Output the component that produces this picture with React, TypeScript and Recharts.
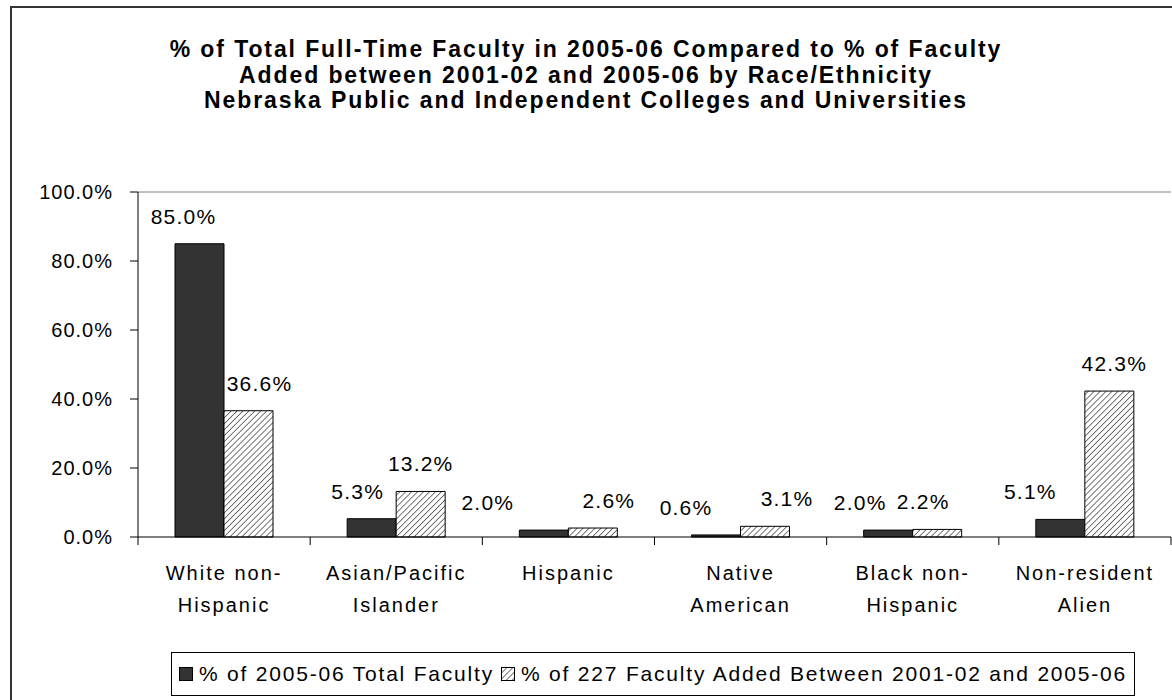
import { BarChart, Bar, XAxis, YAxis, CartesianGrid, LabelList, ReferenceLine } from "recharts";

const categories = [
  "White non-\nHispanic",
  "Asian/Pacific\nIslander",
  "Hispanic",
  "Native\nAmerican",
  "Black non-\nHispanic",
  "Non-resident\nAlien",
];
const totalFaculty = [85.0, 5.3, 2.0, 0.6, 2.0, 5.1];
const facultyAdded = [36.6, 13.2, 2.6, 3.1, 2.2, 42.3];
const yTicks = [0, 20, 40, 60, 80, 100];

// sideways nudges (px) of each value label, as placed in the original
const totalLabelNudge = [-16, -14, -56, -30, -28, -30];
const addedLabelNudge = [11, 0, 16, 22, -14, 5];

const TITLE = [
  "% of Total Full-Time Faculty in 2005-06 Compared to % of Faculty",
  "Added between 2001-02 and 2005-06 by Race/Ethnicity",
  "Nebraska Public and Independent Colleges and Universities",
];
const SERIES_TOTAL = "% of 2005-06 Total Faculty";
const SERIES_ADDED = "% of 227 Faculty Added Between 2001-02 and 2005-06";

const FONT = '"Liberation Sans", Arial, sans-serif';
const DARK = "#333333";

const data = categories.map((name, i) => ({
  name,
  total: totalFaculty[i],
  added: facultyAdded[i],
}));

// half of one category band, used for the boundary tick marks
const HALF_BAND = (1171 - 138) / categories.length / 2;

function CategoryTick(props: any) {
  const { x, y, payload, index } = props;
  const lines = String(payload.value).split("\n");
  return (
    <g>
      <line x1={x - HALF_BAND} y1={y - 8} x2={x - HALF_BAND} y2={y} stroke="#000" />
      {index === categories.length - 1 && (
        <line x1={x + HALF_BAND} y1={y - 8} x2={x + HALF_BAND} y2={y} stroke="#000" />
      )}
      <text x={x} y={y + 35} textAnchor="middle" fontSize={20} letterSpacing={2} fill="#000" fontFamily={FONT}>
        {lines.map((l, k) => (
          <tspan key={k} x={x} dy={k === 0 ? 0 : 32}>
            {l}
          </tspan>
        ))}
      </text>
    </g>
  );
}

const valueLabel = (nudges: number[]) => (props: any) => {
  const { x, y, width, value, index } = props;
  return (
    <text
      x={x + width / 2 + (nudges[index] ?? 0)}
      y={y - 20}
      textAnchor="middle"
      fontSize={21}
      letterSpacing={1.2}
      fill="#000"
      fontFamily={FONT}
    >
      {Number(value).toFixed(1)}%
    </text>
  );
};

export default function App() {
  return (
    <div
      style={{
        position: "absolute",
        left: 0,
        top: 0,
        width: 1172,
        height: 700,
        overflow: "hidden",
        background: "#fff",
        fontFamily: FONT,
      }}
    >
      <div
        style={{
          position: "absolute",
          left: 10,
          top: 6,
          width: 1200,
          height: 720,
          borderTop: "2px solid #333",
          borderLeft: "2px solid #333",
        }}
      />
      <div
        style={{
          position: "absolute",
          left: 0,
          top: 37,
          width: 1172,
          textAlign: "center",
          fontWeight: "bold",
          fontSize: 23,
          letterSpacing: 1.9,
          lineHeight: "25.5px",
          color: "#000",
        }}
      >
        {TITLE.map((t) => (
          <div key={t}>{t}</div>
        ))}
      </div>
      <div style={{ position: "absolute", left: 0, top: 0 }}>
        <BarChart
          width={1172}
          height={700}
          data={data}
          margin={{ top: 192, right: 1, bottom: 103, left: 38 }}
          barGap={0}
          barSize={49}
        >
          <defs>
            <pattern id="hatch" patternUnits="userSpaceOnUse" width="4.2" height="4.2" patternTransform="rotate(45)">
              <rect width="4.2" height="4.2" fill="#fff" />
              <line x1="0" y1="0" x2="0" y2="4.2" stroke="#555" strokeWidth="1.6" />
            </pattern>
          </defs>
          <CartesianGrid horizontal vertical={false} stroke="#000" horizontalValues={[20, 40, 60, 80]} />
          <ReferenceLine y={100} yAxisId="left" stroke="#808080" />
          <XAxis
            dataKey="name"
            interval={0}
            height={60}
            tickLine={false}
            axisLine={{ stroke: "#000" }}
            tick={<CategoryTick />}
          />
          <YAxis
            yAxisId="left"
            width={100}
            domain={[0, 100]}
            ticks={yTicks}
            tickSize={8}
            tickMargin={17}
            tickLine={{ stroke: "#000" }}
            axisLine={{ stroke: "#000" }}
            tickFormatter={(v: number) => `${v.toFixed(1)}%`}
            tick={{ fill: "#000", fontSize: 20, fontFamily: FONT, letterSpacing: 1 }}
          />
          <YAxis
            yAxisId="right"
            orientation="right"
            width={0}
            domain={[0, 100]}
            tick={false}
            tickLine={false}
            axisLine={{ stroke: "#808080" }}
          />
          <Bar yAxisId="left" dataKey="total" name={SERIES_TOTAL} fill={DARK} stroke="#000" strokeWidth={1} isAnimationActive={false}>
            <LabelList dataKey="total" content={valueLabel(totalLabelNudge)} />
          </Bar>
          <Bar yAxisId="left" dataKey="added" name={SERIES_ADDED} fill="url(#hatch)" stroke="#000" strokeWidth={1} isAnimationActive={false}>
            <LabelList dataKey="added" content={valueLabel(addedLabelNudge)} />
          </Bar>
        </BarChart>
      </div>
      <div
        style={{
          position: "absolute",
          left: 171,
          top: 652,
          width: 962,
          height: 42,
          border: "1px solid #000",
          display: "flex",
          alignItems: "center",
          justifyContent: "center",
          fontSize: 21,
          letterSpacing: 1.8,
          color: "#000",
          whiteSpace: "nowrap",
        }}
      >
        <span style={{ display: "inline-block", width: 12, height: 12, background: DARK, border: "1px solid #000", marginRight: 6 }} />
        <span>{SERIES_TOTAL}</span>
        <svg width={14} height={14} style={{ margin: "0 6px 0 7px" }}>
          <rect x={0.5} y={0.5} width={13} height={13} fill="url(#hatch)" stroke="#000" />
        </svg>
        <span>{SERIES_ADDED}</span>
      </div>
    </div>
  );
}
